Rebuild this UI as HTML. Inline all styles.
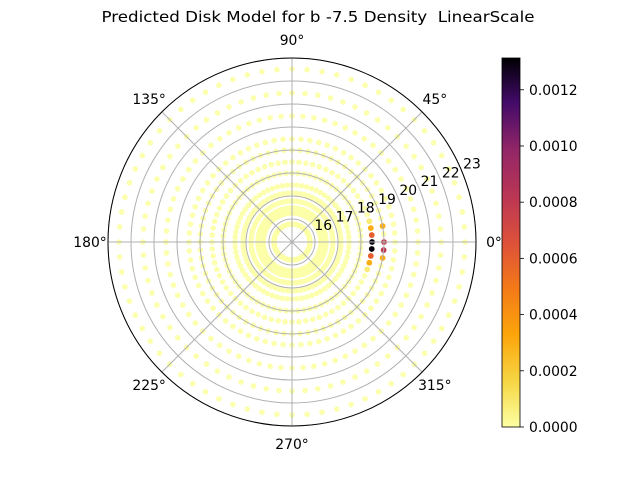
<!DOCTYPE html>
<html><head><meta charset="utf-8">
<style>
html,body{margin:0;padding:0;background:#fff;}
svg{display:block;font-family:"DejaVu Sans","Liberation Sans",sans-serif;}
</style></head>
<body>
<svg id="chart" width="640" height="480" viewBox="0 0 640 480">
<defs>
<linearGradient id="cmap" x1="0" y1="1" x2="0" y2="0">
<stop offset="0" stop-color="#fcffa4"/>
<stop offset="0.12" stop-color="#f6d746"/>
<stop offset="0.25" stop-color="#fca50a"/>
<stop offset="0.38" stop-color="#f37819"/>
<stop offset="0.5" stop-color="#dd513a"/>
<stop offset="0.62" stop-color="#bc3754"/>
<stop offset="0.75" stop-color="#932667"/>
<stop offset="0.88" stop-color="#420a68"/>
<stop offset="1" stop-color="#000004"/>
</linearGradient>
</defs>
<text x="318" y="22" font-size="15.5" text-anchor="middle" textLength="433" lengthAdjust="spacingAndGlyphs" xml:space="preserve">Predicted Disk Model for b -7.5 Density  LinearScale</text>
<g id="dots"></g>
<g id="grid"></g>
<circle cx="292" cy="242" r="184" fill="none" stroke="#000" stroke-width="1"/>
<rect x="502" y="58" width="18" height="369" fill="url(#cmap)" stroke="#000" stroke-width="0.8"/>
<g id="cbticks"></g>
<g id="labels"></g>
</svg>
<script>
const ringRadii = [15.78, 16.26, 16.48, 16.78, 17.13, 17.48, 18.0, 18.48, 19.0, 19.48, 20.48, 21.48, 22.52];
const rTicks = [16, 17, 18, 19, 20, 21, 22, 23];
const angleTicks = [0, 45, 90, 135, 180, 225, 270, 315];
const hotRadius = [18.48, 18.48, 18.48, 18.48, 18.48, 18.48, 18.48, 18.48, 19.0, 19.0, 19.0, 19.0];
const hotAngle = [15, 10, 5, 0, -5, -10, -15, -20, 10, 0, -5, -10];
const hotValue = [0.00008, 0.0003, 0.0006, 0.0013, 0.0013, 0.0006, 0.0003, 0.00008, 0.0003, 0.0008, 0.0008, 0.0003];
const cbTicks = [0, 0.0002, 0.0004, 0.0006, 0.0008, 0.0010, 0.0012];
const vmax = 0.001313;

const NS = "http://www.w3.org/2000/svg";
const cx = 292, cy = 242, R = 184, rMin = 15, rMax = 23;
function rScale(r){ return (r - rMin) / (rMax - rMin) * R; }
function pos(r, deg){ const p = rScale(r), a = deg*Math.PI/180; return [cx + p*Math.cos(a), cy - p*Math.sin(a)]; }
const stops = [[0,[252,255,164]],[0.12,[246,215,70]],[0.25,[252,165,10]],[0.38,[243,120,25]],[0.5,[221,81,58]],[0.62,[188,55,84]],[0.75,[147,38,103]],[0.88,[66,10,104]],[1,[0,0,4]]];
function cmap(v){
  let t = Math.max(0, Math.min(1, v / vmax));
  for (let i=1;i<stops.length;i++){
    if (t <= stops[i][0]){
      const a = stops[i-1], b = stops[i], f = (t-a[0])/(b[0]-a[0]);
      const c = a[1].map((x,j)=>Math.round(x+(b[1][j]-x)*f));
      return `rgb(${c[0]},${c[1]},${c[2]})`;
    }
  }
  return "rgb(0,0,4)";
}
function mk(tag, attrs, parent){ const e = document.createElementNS(NS, tag); for (const k in attrs) e.setAttribute(k, attrs[k]); parent.appendChild(e); return e; }

const grid = document.getElementById('grid');
rTicks.forEach(t => {
  const c = mk('circle', {cx, cy, r: rScale(t), fill:'none', stroke:'#b0b0b0', 'stroke-width':1}, grid);
  
  
});
angleTicks.forEach(a => {
  const [x,y] = pos(rMax, a);
  const l = mk('line', {x1:cx, y1:cy, x2:x, y2:y, stroke:'#b0b0b0', 'stroke-width':1}, grid);
  
  
});

const dots = document.getElementById('dots');
ringRadii.forEach(r => {
  for (let a = 0; a < 360; a += 5) {
    const [x,y] = pos(r, a);
    const d = mk('circle', {cx:x, cy:y, r:2.8, fill:'#fcffa4', 'fill-opacity':0.9}, dots);
    
    
  }
});
hotValue.forEach((v,i) => {
  const [x,y] = pos(hotRadius[i], hotAngle[i]);
  const d = mk('circle', {cx:x, cy:y, r:2.9, fill:cmap(v)}, dots);
  
  
});

const labels = document.getElementById('labels');
angleTicks.forEach(a => {
  const rad = a*Math.PI/180, p = R + 18;
  const t = mk('text', {x: cx + p*Math.cos(rad), y: cy - p*Math.sin(rad) + 5, 'font-size':13.9, 'text-anchor':'middle'}, labels);
  t.textContent = a + '°';
  
  
});
rTicks.forEach(r => {
  const [x,y] = pos(r, 22.5);
  const t = mk('text', {x: x+10, y: y-8+5, 'font-size':13.9, 'text-anchor':'middle'}, labels);
  t.textContent = r;
  
  
});

const cb = document.getElementById('cbticks');
cbTicks.forEach(v => {
  const y = 427 - v / vmax * 369;
  const l = mk('line', {x1:520, y1:y, x2:524, y2:y, stroke:'#000', 'stroke-width':0.8}, cb);
  
  
  const t = mk('text', {x:529, y:y+5, 'font-size':13.9}, cb);
  t.textContent = v.toFixed(4);
  
  
});
</script>
</body></html>
